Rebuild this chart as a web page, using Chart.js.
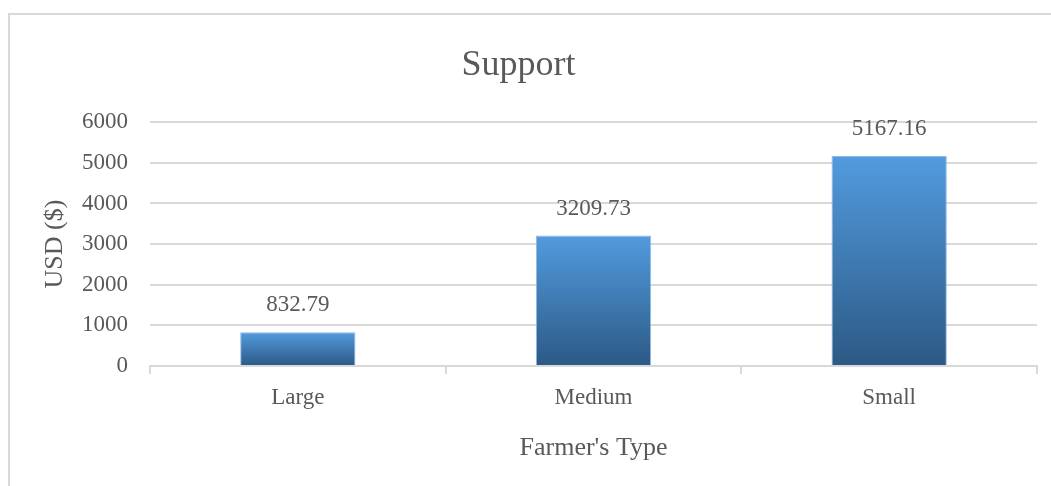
<!DOCTYPE html>
<html>
<head>
<meta charset="utf-8">
<script src="https://cdn.jsdelivr.net/npm/chart.js@4.4.0/dist/chart.umd.min.js"></script>
<style>
    body { margin: 0; background: #fff; }
    #wrap { position: relative; width: 1051px; height: 486px; }
    #frame {
        position: absolute; left: 8px; top: 13px; right: 0; bottom: 0;
        border-left: 2px solid #d9d9d9; border-top: 2px solid #d9d9d9;
    }
    canvas { position: absolute; left: 0; top: 0; }
</style>
</head>
<body>
<div id="wrap">
    <div id="frame"></div>
    <canvas id="chart" width="1051" height="486"></canvas>
</div>
<script>
const categories = ['Large', 'Medium', 'Small']
const supportValues = [832.79, 3209.73, 5167.16]
const yTicks = [0, 1000, 2000, 3000, 4000, 5000, 6000]

const textColor = '#595959'
const serif = "'Liberation Serif', 'Times New Roman', serif"

// gradient per bar, light at the top, dark at the base
function barGradient(context) {
    const chart = context.chart
    if (!chart.chartArea) return '#3f7fbf'
    const y = chart.scales.y
    const top = y.getPixelForValue(context.raw)
    const bottom = y.getPixelForValue(0)
    const g = chart.ctx.createLinearGradient(0, top, 0, bottom)
    g.addColorStop(0, '#529bde')
    g.addColorStop(1, '#2c5985')
    return g
}

const valueLabels = {
    id: 'valueLabels',
    afterDatasetsDraw(chart) {
        const ctx = chart.ctx
        const meta = chart.getDatasetMeta(0)
        ctx.save()
        ctx.font = '23px ' + serif
        ctx.fillStyle = textColor
        ctx.textAlign = 'center'
        ctx.textBaseline = 'middle'
        meta.data.forEach((bar, i) => {
            ctx.fillText(supportValues[i].toFixed(2), bar.x, bar.y - 27)
        })
        ctx.restore()
    }
}

const ctx = document.getElementById('chart').getContext('2d')
new Chart(ctx, {
    type: 'bar',
    data: {
        labels: categories,
        datasets: [{
            label: 'Support',
            data: supportValues,
            backgroundColor: barGradient,
            borderColor: 'rgba(130,180,225,0.9)',
            borderWidth: 1,
            categoryPercentage: 1,
            barPercentage: 0.39
        }]
    },
    options: {
        responsive: false,
        animation: false,
        layout: { padding: { left: 0, right: 14, top: 0, bottom: 0 } },
        plugins: {
            legend: { display: false },
            tooltip: { enabled: false },
            title: {
                display: true,
                text: 'Support',
                color: textColor,
                font: { family: serif, size: 36, weight: 'normal' },
                padding: { top: 44, bottom: 35 }
            }
        },
        scales: {
            x: {
                afterFit: (scale) => { scale.height = 120 },
                grid: {
                    offset: true,
                    drawOnChartArea: false,
                    color: '#d9d9d9',
                    lineWidth: 2,
                    tickLength: 8
                },
                border: { color: '#d9d9d9', width: 2 },
                ticks: {
                    color: textColor,
                    padding: 10,
                    font: { family: serif, size: 23 }
                },
                title: {
                    display: true,
                    text: "Farmer's Type",
                    color: textColor,
                    font: { family: serif, size: 26 },
                    padding: { top: 0, bottom: 22 }
                }
            },
            y: {
                min: 0,
                max: 6000,
                afterFit: (scale) => { scale.width = 150 },
                afterBuildTicks: (scale) => { scale.ticks = yTicks.map(v => ({ value: v })) },
                grid: {
                    color: '#d9d9d9',
                    lineWidth: 2,
                    drawTicks: false
                },
                border: { display: false },
                ticks: {
                    color: textColor,
                    padding: 22,
                    font: { family: serif, size: 23 },
                    callback: (value) => String(value)
                },
                title: {
                    display: true,
                    text: 'USD ($)',
                    color: textColor,
                    font: { family: serif, size: 26 },
                    padding: { top: 40, bottom: 0 }
                }
            }
        }
    },
    plugins: [valueLabels]
})
</script>
</body>
</html>
